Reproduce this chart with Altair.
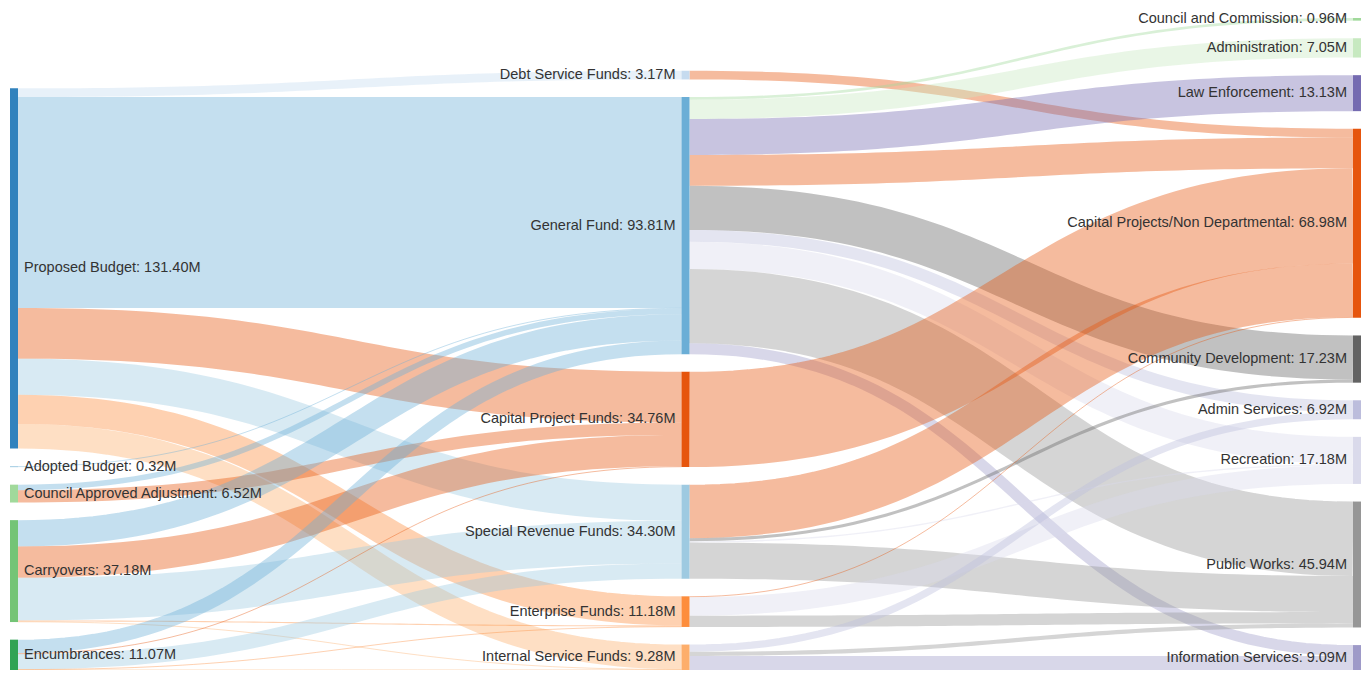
import altair as alt
import pandas as pd
import numpy as np

# ---------------- data ----------------
left_nodes = ["Proposed Budget", "Adopted Budget", "Council Approved Adjustment",
              "Carryovers", "Encumbrances"]
left_values = [131.40, 0.32, 6.52, 37.18, 11.07]
left_colors = ["#3182bd", "#9ecae1", "#a1d99b", "#74c476", "#31a354"]

mid_nodes = ["Debt Service Funds", "General Fund", "Capital Project Funds",
             "Special Revenue Funds", "Enterprise Funds", "Internal Service Funds"]
mid_values = [3.17, 93.81, 34.76, 34.30, 11.18, 9.28]
mid_colors = ["#c6dbef", "#6baed6", "#e6550d", "#9ecae1", "#fd8d3c", "#fdae6b"]

right_nodes = ["Council and Commission", "Administration", "Law Enforcement",
               "Capital Projects/Non Departmental", "Community Development",
               "Admin Services", "Recreation", "Public Works", "Information Services"]
right_values = [0.96, 7.05, 13.13, 68.98, 17.23, 6.92, 17.18, 45.94, 9.09]
right_colors = ["#a1d99b", "#c7e9c0", "#756bb1", "#e6550d", "#636363",
                "#bcbddc", "#dadaeb", "#969696", "#9e9ac8"]

link_sources = [
    "Proposed Budget", "Proposed Budget", "Proposed Budget", "Proposed Budget",
    "Proposed Budget", "Proposed Budget", "Adopted Budget",
    "Council Approved Adjustment", "Council Approved Adjustment",
    "Carryovers", "Carryovers", "Carryovers", "Carryovers", "Carryovers",
    "Encumbrances", "Encumbrances", "Encumbrances", "Encumbrances", "Encumbrances",
    "Debt Service Funds",
    "General Fund", "General Fund", "General Fund", "General Fund", "General Fund",
    "General Fund", "General Fund", "General Fund", "General Fund",
    "Capital Project Funds",
    "Special Revenue Funds", "Special Revenue Funds", "Special Revenue Funds",
    "Special Revenue Funds",
    "Enterprise Funds", "Enterprise Funds", "Enterprise Funds",
    "Internal Service Funds", "Internal Service Funds", "Internal Service Funds",
]
link_targets = [
    "Debt Service Funds", "General Fund", "Capital Project Funds", "Special Revenue Funds",
    "Enterprise Funds", "Internal Service Funds", "General Fund",
    "General Fund", "Capital Project Funds",
    "General Fund", "Capital Project Funds", "Special Revenue Funds",
    "Enterprise Funds", "Internal Service Funds",
    "General Fund", "Capital Project Funds", "Special Revenue Funds",
    "Enterprise Funds", "Internal Service Funds",
    "Capital Projects/Non Departmental",
    "Council and Commission", "Administration", "Law Enforcement",
    "Capital Projects/Non Departmental", "Community Development", "Admin Services",
    "Recreation", "Public Works", "Information Services",
    "Capital Projects/Non Departmental",
    "Capital Projects/Non Departmental", "Community Development", "Recreation",
    "Public Works",
    "Capital Projects/Non Departmental", "Recreation", "Public Works",
    "Admin Services", "Public Works", "Information Services",
]
link_values = [
    3.17, 76.92, 18.50, 13.20, 10.60, 9.01, 0.32,
    2.00, 4.52,
    9.60, 11.44, 15.54, 0.40, 0.20,
    4.97, 0.30, 5.56, 0.18, 0.07,
    3.17,
    0.96, 7.05, 13.13, 11.25, 16.10, 4.30, 9.92, 27.15, 3.95,
    34.76,
    19.50, 1.13, 0.50, 13.17,
    0.30, 6.76, 4.12,
    2.62, 1.52, 5.14,
]

# ---------------- sankey layout (computed from the data) ----------------
W, H = 1353, 662
NODE_W = 8
PAD = 17.6
TOP = 10
LINK_OPACITY = 0.4

columns = [(left_nodes, left_values, left_colors),
           (mid_nodes, mid_values, mid_colors),
           (right_nodes, right_values, right_colors)]
ky = min((H - TOP - (len(n) - 1) * PAD) / sum(v) for n, v, _ in columns)
col_x = [2, (2 + W - NODE_W) / 2, W - NODE_W]

nodes = {}
for ci, (names, vals, cols) in enumerate(columns):
    total = sum(vals) * ky + (len(names) - 1) * PAD
    y = H - total
    for name, v, c in zip(names, vals, cols):
        nodes[name] = dict(name=name, col=ci, value=v, color=c,
                           x0=col_x[ci], x1=col_x[ci] + NODE_W,
                           y0=y, y1=y + v * ky)
        y += v * ky + PAD

links = [dict(id=i, s=s, t=t, v=v, w=v * ky)
         for i, (s, t, v) in enumerate(zip(link_sources, link_targets, link_values))]

for name, nd in nodes.items():
    outs = sorted([l for l in links if l["s"] == name], key=lambda l: nodes[l["t"]]["y0"])
    y = nd["y0"]
    for l in outs:
        l["sy"] = y + l["w"] / 2
        y += l["w"]
    ins = sorted([l for l in links if l["t"] == name], key=lambda l: nodes[l["s"]]["y0"])
    y = nd["y0"]
    for l in ins:
        l["ty"] = y + l["w"] / 2
        y += l["w"]

rows = []
ts = np.linspace(0, 1, 61)
for l in links:
    xs = nodes[l["s"]]["x1"]
    xt = nodes[l["t"]]["x0"]
    xm = (xs + xt) / 2
    ys, yt = l["sy"], l["ty"]
    for k, t in enumerate(ts):
        a, b, c, d = (1 - t) ** 3, 3 * (1 - t) ** 2 * t, 3 * (1 - t) * t ** 2, t ** 3
        rows.append(dict(lid=l["id"], order=k,
                         x=a * xs + b * xm + c * xm + d * xt,
                         y=a * ys + b * ys + c * yt + d * yt,
                         w=max(1.0, l["w"]),
                         color=nodes[l["t"]]["color"]))
link_df = pd.DataFrame(rows)

node_df = pd.DataFrame([dict(name=n["name"], col=n["col"], x0=n["x0"], x1=n["x1"],
                             y0=n["y0"], y1=max(n["y1"], n["y0"] + 1), color=n["color"],
                             ym=(n["y0"] + n["y1"]) / 2,
                             lx=(n["x1"] + 6) if n["col"] == 0 else (n["x0"] - 6),
                             label=f'{n["name"]}: {n["value"]:.2f}M')
                        for n in nodes.values()])

xs_ = alt.Scale(domain=[0, W], range=[0, W], nice=False, zero=False)
ys_ = alt.Scale(domain=[0, H], range=[0, H], nice=False, zero=False)

link_layer = alt.Chart(link_df).mark_line(opacity=LINK_OPACITY, strokeCap="butt").encode(
    x=alt.X("x:Q", scale=xs_, axis=None),
    y=alt.Y("y:Q", scale=ys_, axis=None),
    detail="lid:N",
    order="order:Q",
    color=alt.Color("color:N", scale=None),
    strokeWidth=alt.StrokeWidth("w:Q", scale=None),
)

node_layer = alt.Chart(node_df).mark_rect().encode(
    x=alt.X("x0:Q", scale=xs_, axis=None), x2="x1:Q",
    y=alt.Y("y0:Q", scale=ys_, axis=None), y2="y1:Q",
    color=alt.Color("color:N", scale=None),
)

text_common = dict(font="Liberation Sans", fontSize=14.5, color="#333333", baseline="middle")
label_left = alt.Chart(node_df).transform_filter("datum.col == 0").mark_text(
    align="left", **text_common).encode(
    x=alt.X("lx:Q", scale=xs_, axis=None), y=alt.Y("ym:Q", scale=ys_, axis=None),
    text="label:N")
label_right = alt.Chart(node_df).transform_filter("datum.col > 0").mark_text(
    align="right", **text_common).encode(
    x=alt.X("lx:Q", scale=xs_, axis=None), y=alt.Y("ym:Q", scale=ys_, axis=None),
    text="label:N")

chart = alt.layer(link_layer, node_layer, label_left, label_right).properties(
    width=W, height=H, autosize=alt.AutoSizeParams(type="none"), padding=0
).configure_view(stroke=None)

chart.save("out.html", embed_options={"renderer": "svg", "actions": False})
